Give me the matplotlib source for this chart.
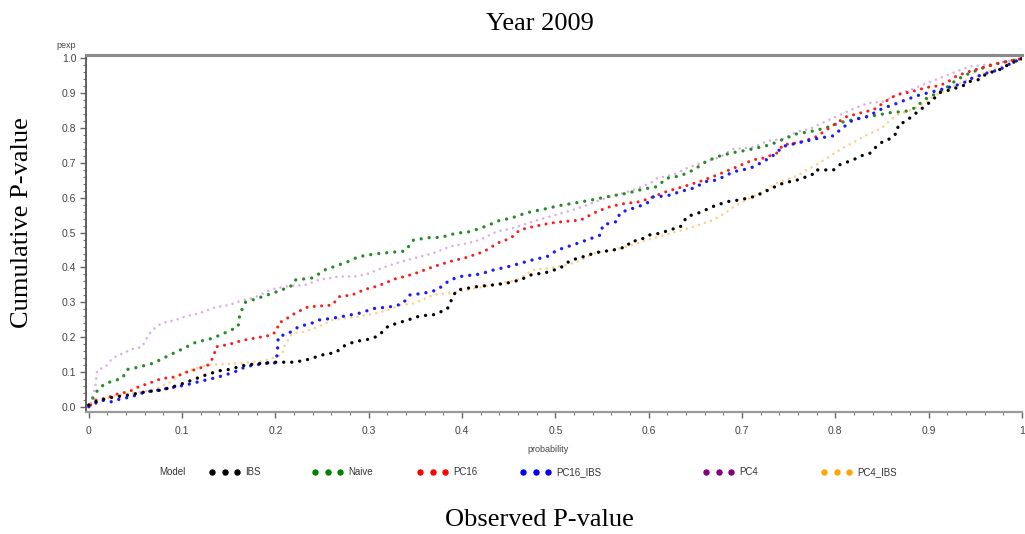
import matplotlib
matplotlib.use('Agg')
import matplotlib.pyplot as plt
from matplotlib.lines import Line2D
from matplotlib.ticker import MultipleLocator

# 各模型的累计 P 值曲线
ibs_x = [0, 0.011, 0.025, 0.043, 0.061, 0.078, 0.096, 0.111, 0.125, 0.139, 0.150, 0.168, 0.186, 0.200,
         0.221, 0.235, 0.253, 0.264, 0.275, 0.285, 0.300, 0.310, 0.321, 0.332, 0.344, 0.355, 0.369,
         0.384, 0.389, 0.394, 0.416, 0.434, 0.448, 0.462, 0.476, 0.487, 0.505, 0.516, 0.530, 0.544,
         0.562, 0.577, 0.580, 0.591, 0.600, 0.612, 0.623, 0.634, 0.641, 0.655, 0.669, 0.684, 0.698,
         0.712, 0.721, 0.737, 0.744, 0.759, 0.775, 0.778, 0.798, 0.805, 0.819, 0.830, 0.837, 0.844,
         0.851, 0.860, 0.867, 0.867, 0.875, 0.884, 0.891, 0.898, 0.905, 0.912, 0.923, 0.937, 0.944,
         0.953, 0.962, 0.970, 0.978, 0.985, 1.0]
ibs_y = [0.005, 0.019, 0.027, 0.034, 0.043, 0.048, 0.062, 0.077, 0.091, 0.103, 0.107, 0.120, 0.125, 0.128,
         0.128, 0.136, 0.151, 0.155, 0.177, 0.187, 0.194, 0.203, 0.232, 0.241, 0.251, 0.261, 0.264,
         0.280, 0.309, 0.335, 0.345, 0.350, 0.355, 0.364, 0.381, 0.383, 0.398, 0.420, 0.431, 0.443,
         0.450, 0.460, 0.474, 0.479, 0.493, 0.498, 0.508, 0.517, 0.546, 0.558, 0.575, 0.589, 0.594,
         0.603, 0.613, 0.634, 0.642, 0.651, 0.666, 0.680, 0.680, 0.695, 0.709, 0.723, 0.728, 0.747,
         0.762, 0.771, 0.790, 0.809, 0.819, 0.838, 0.853, 0.867, 0.883, 0.902, 0.910, 0.922, 0.934,
         0.939, 0.956, 0.963, 0.970, 0.982, 1.0]

naive_x = [0, 0.010, 0.0177, 0.036, 0.041, 0.052, 0.069, 0.087, 0.098, 0.116, 0.127, 0.141, 0.160,
           0.162, 0.168, 0.198, 0.216, 0.221, 0.240, 0.253, 0.278, 0.289, 0.307, 0.330, 0.339, 0.348,
           0.366, 0.377, 0.393, 0.409, 0.427, 0.441, 0.452, 0.469, 0.487, 0.505, 0.523, 0.539, 0.559,
           0.577, 0.594, 0.609, 0.619, 0.634, 0.648, 0.662, 0.676, 0.691, 0.698, 0.714, 0.730, 0.744,
           0.759, 0.773, 0.789, 0.805, 0.819, 0.834, 0.846, 0.860, 0.875, 0.884, 0.898, 0.916, 0.930,
           0.944, 0.962, 0.976, 1.0]
naive_y = [0.005, 0.050, 0.067, 0.082, 0.107, 0.113, 0.125, 0.149, 0.163, 0.187, 0.192, 0.206, 0.230,
           0.268, 0.300, 0.327, 0.345, 0.364, 0.370, 0.393, 0.417, 0.431, 0.439, 0.445, 0.447, 0.479,
           0.486, 0.486, 0.498, 0.503, 0.520, 0.536, 0.541, 0.557, 0.567, 0.578, 0.586, 0.594, 0.605,
           0.613, 0.625, 0.632, 0.656, 0.663, 0.680, 0.705, 0.720, 0.730, 0.733, 0.742, 0.752, 0.768,
           0.784, 0.790, 0.800, 0.816, 0.824, 0.833, 0.838, 0.845, 0.848, 0.857, 0.886, 0.910, 0.939,
           0.958, 0.977, 0.987, 1.0]

pc16_x = [0.002, 0.007, 0.018, 0.032, 0.043, 0.053, 0.064, 0.078, 0.093, 0.103, 0.118, 0.128, 0.134,
          0.136, 0.150, 0.160, 0.171, 0.186, 0.196, 0.202, 0.203, 0.210, 0.218, 0.228, 0.235, 0.246,
          0.261, 0.268, 0.282, 0.296, 0.310, 0.330, 0.339, 0.352, 0.369, 0.387, 0.405, 0.423, 0.439,
          0.452, 0.462, 0.476, 0.494, 0.509, 0.527, 0.544, 0.559, 0.573, 0.591, 0.605, 0.619, 0.637,
          0.655, 0.669, 0.691, 0.712, 0.723, 0.737, 0.744, 0.762, 0.780, 0.798, 0.812, 0.826, 0.841,
          0.859, 0.866, 0.882, 0.898, 0.912, 0.923, 0.930, 0.944, 0.962, 0.976, 1.0]
pc16_y = [0.005, 0.019, 0.024, 0.038, 0.043, 0.057, 0.067, 0.081, 0.086, 0.098, 0.110, 0.120, 0.144,
          0.172, 0.179, 0.187, 0.194, 0.201, 0.206, 0.220, 0.240, 0.249, 0.264, 0.278, 0.287, 0.289,
          0.292, 0.316, 0.321, 0.337, 0.347, 0.369, 0.374, 0.385, 0.402, 0.417, 0.429, 0.445, 0.471,
          0.484, 0.508, 0.517, 0.527, 0.532, 0.536, 0.560, 0.575, 0.583, 0.589, 0.603, 0.618, 0.632,
          0.647, 0.661, 0.685, 0.709, 0.714, 0.728, 0.752, 0.759, 0.776, 0.809, 0.833, 0.843, 0.853,
          0.886, 0.896, 0.905, 0.917, 0.922, 0.937, 0.950, 0.963, 0.977, 0.987, 1.0]

pc16_ibs_x = [0, 0.007, 0.014, 0.025, 0.032, 0.046, 0.061, 0.075, 0.085, 0.103, 0.118, 0.132, 0.146,
              0.157, 0.168, 0.178, 0.191, 0.200, 0.202, 0.203, 0.214, 0.225, 0.239, 0.246, 0.261, 0.275,
              0.289, 0.307, 0.321, 0.336, 0.344, 0.359, 0.373, 0.387, 0.398, 0.419, 0.434, 0.452, 0.469,
              0.476, 0.491, 0.502, 0.519, 0.534, 0.548, 0.551, 0.566, 0.569, 0.577, 0.587, 0.598, 0.605,
              0.619, 0.634, 0.648, 0.662, 0.673, 0.691, 0.709, 0.723, 0.737, 0.743, 0.762, 0.782, 0.798,
              0.805, 0.819, 0.834, 0.851, 0.867, 0.875, 0.891, 0.905, 0.919, 0.937, 0.944, 0.962, 0.976,
              0.985, 1.0]
pc16_ibs_y = [0, 0.010, 0.019, 0.014, 0.021, 0.029, 0.043, 0.048, 0.053, 0.062, 0.072, 0.081, 0.091,
              0.101, 0.115, 0.120, 0.125, 0.126, 0.153, 0.201, 0.211, 0.230, 0.240, 0.249, 0.254, 0.261,
              0.268, 0.283, 0.286, 0.295, 0.321, 0.326, 0.335, 0.364, 0.374, 0.381, 0.393, 0.404, 0.417,
              0.422, 0.431, 0.450, 0.465, 0.479, 0.493, 0.522, 0.532, 0.556, 0.565, 0.573, 0.584, 0.603,
              0.605, 0.618, 0.628, 0.647, 0.651, 0.675, 0.685, 0.704, 0.728, 0.747, 0.759, 0.771, 0.778,
              0.795, 0.824, 0.833, 0.857, 0.872, 0.881, 0.896, 0.905, 0.915, 0.929, 0.941, 0.958, 0.968,
              0.982, 1.0]

pc4_x = [0.002, 0.007, 0.009, 0.018, 0.025, 0.036, 0.046, 0.057, 0.064, 0.068, 0.078, 0.093, 0.103,
         0.118, 0.136, 0.150, 0.164, 0.178, 0.196, 0.210, 0.232, 0.246, 0.268, 0.285, 0.298, 0.318,
         0.335, 0.355, 0.369, 0.387, 0.405, 0.419, 0.437, 0.455, 0.476, 0.494, 0.512, 0.530, 0.548,
         0.566, 0.584, 0.602, 0.609, 0.626, 0.641, 0.655, 0.676, 0.690, 0.712, 0.728, 0.744, 0.759,
         0.773, 0.789, 0.805, 0.819, 0.835, 0.851, 0.866, 0.880, 0.898, 0.916, 0.930, 0.944, 0.962,
         0.976, 1.0]
pc4_y = [0.010, 0.057, 0.105, 0.115, 0.139, 0.153, 0.165, 0.172, 0.206, 0.220, 0.240, 0.249, 0.259,
         0.268, 0.286, 0.292, 0.305, 0.314, 0.337, 0.345, 0.350, 0.364, 0.374, 0.374, 0.381, 0.402,
         0.417, 0.431, 0.441, 0.460, 0.469, 0.479, 0.503, 0.513, 0.532, 0.546, 0.560, 0.575, 0.594,
         0.608, 0.623, 0.642, 0.656, 0.666, 0.685, 0.699, 0.716, 0.740, 0.745, 0.764, 0.769, 0.790,
         0.798, 0.819, 0.838, 0.855, 0.872, 0.876, 0.896, 0.910, 0.929, 0.948, 0.963, 0.977, 0.982,
         0.988, 1.0]

pc4_ibs_x = [0.002, 0.018, 0.032, 0.046, 0.068, 0.085, 0.100, 0.114, 0.128, 0.146, 0.164, 0.186, 0.196,
             0.207, 0.210, 0.218, 0.232, 0.246, 0.261, 0.275, 0.289, 0.307, 0.321, 0.334, 0.348, 0.362,
             0.369, 0.384, 0.405, 0.423, 0.441, 0.459, 0.476, 0.494, 0.512, 0.527, 0.541, 0.562, 0.584,
             0.598, 0.612, 0.630, 0.648, 0.669, 0.684, 0.691, 0.705, 0.719, 0.737, 0.759, 0.769, 0.780,
             0.791, 0.805, 0.819, 0.834, 0.850, 0.859, 0.867, 0.882, 0.898, 0.905, 0.919, 0.937, 0.951,
             0.970, 0.985, 1.0]
pc4_ibs_y = [0.006, 0.024, 0.034, 0.038, 0.048, 0.067, 0.096, 0.110, 0.120, 0.123, 0.125, 0.131, 0.139,
             0.149, 0.177, 0.211, 0.216, 0.230, 0.249, 0.254, 0.259, 0.268, 0.278, 0.292, 0.297, 0.312,
             0.321, 0.326, 0.335, 0.345, 0.355, 0.364, 0.393, 0.398, 0.407, 0.420, 0.441, 0.450, 0.465,
             0.479, 0.489, 0.503, 0.517, 0.536, 0.560, 0.575, 0.594, 0.613, 0.642, 0.663, 0.680, 0.695,
             0.714, 0.738, 0.759, 0.781, 0.800, 0.824, 0.838, 0.853, 0.876, 0.891, 0.910, 0.934, 0.948,
             0.970, 0.982, 1.0]

models = ['IBS', 'Naive', 'PC16', 'PC16_IBS', 'PC4', 'PC4_IBS']
series = [(ibs_x, ibs_y), (naive_x, naive_y), (pc16_x, pc16_y),
          (pc16_ibs_x, pc16_ibs_y), (pc4_x, pc4_y), (pc4_ibs_x, pc4_ibs_y)]

# 图中颜色（PC4、PC4_IBS 的点较淡）和图例颜色
plot_colors = ['#000000', '#2a8a2a', '#ff1a1a', '#1a1aff', '#dcb0e4', '#ffcf85']
key_colors = ['#000000', '#008000', '#ff0000', '#0000ff', '#800080', '#ffa500']
dot_widths = [2.4, 2.4, 2.2, 2.4, 1.9, 1.9]

fig = plt.figure(figsize=(10.25, 5.34), dpi=100)
ax = fig.add_axes([86 / 1025, 1 - 412 / 534, 936 / 1025, 357 / 534])

# 画顺序：淡色的在下面
order = [4, 5, 1, 2, 3, 0]
for i in order:
    xs, ys = series[i]
    ax.plot(xs, ys, linestyle=(0, (0.01, 2.4)), dash_capstyle='round',
            lw=dot_widths[i], color=plot_colors[i])

ax.set_xlim(-0.003, 1.0)
ax.set_ylim(-0.015, 1.01)
ax.xaxis.set_major_locator(MultipleLocator(0.1))
ax.xaxis.set_minor_locator(MultipleLocator(0.02))
ax.yaxis.set_major_locator(MultipleLocator(0.1))
ax.yaxis.set_minor_locator(MultipleLocator(0.02))
ax.set_xticks([0, 0.1, 0.2, 0.3, 0.4, 0.5, 0.6, 0.7, 0.8, 0.9, 1.0])
ax.set_xticklabels(['0', '0.1', '0.2', '0.3', '0.4', '0.5', '0.6', '0.7', '0.8', '0.9', '1'])
ax.set_yticks([0, 0.1, 0.2, 0.3, 0.4, 0.5, 0.6, 0.7, 0.8, 0.9, 1.0])
ax.set_yticklabels(['0.0', '0.1', '0.2', '0.3', '0.4', '0.5', '0.6', '0.7', '0.8', '0.9', '1.0'])

ax.spines['right'].set_visible(False)
ax.spines['top'].set_color('#8a8a8a')
ax.spines['top'].set_linewidth(2.2)
ax.spines['bottom'].set_color('#9a9a9a')
ax.spines['bottom'].set_linewidth(1.6)
ax.spines['left'].set_color('#555555')
ax.spines['left'].set_linewidth(1.3)
ax.tick_params(which='major', length=4, width=1, color='#666666', labelsize=7.5,
               labelcolor='#444444', pad=3)
ax.tick_params(which='minor', length=2.5, width=0.8, color='#777777')
ax.tick_params(axis='x', pad=6)
for lab in ax.get_xticklabels() + ax.get_yticklabels():
    lab.set_family('Liberation Sans')

sans = 'Liberation Sans'
fig.text(66 / 1025, 1 - 46 / 534, 'pexp', fontsize=6.5, color='#444444', family=sans,
         ha='center', va='center')
fig.text(548 / 1025, 1 - 450 / 534, 'probability', fontsize=6.5, color='#444444', family=sans,
         ha='center', va='center')

# 图例（手动排布）
ly = 1 - 472 / 534
fig.text(159 / 1025, ly, 'Model', fontsize=7, color='#333333', family=sans, ha='left', va='center')
key_x = [212, 315, 420, 523, 706, 824]
for k, name in enumerate(models):
    x0 = key_x[k]
    pts = [x0 / 1025, (x0 + 12.5) / 1025, (x0 + 25) / 1025]
    fig.add_artist(Line2D(pts, [ly] * 3, transform=fig.transFigure, linestyle='none',
                          marker='o', markersize=3.6, color=key_colors[k]))
    fig.text((x0 + 33) / 1025, ly, name, fontsize=7, color='#333333', family=sans,
             ha='left', va='center')

serif = 'Liberation Serif'
fig.text(540 / 1025, 1 - 24 / 534, 'Year 2009', fontsize=19, family=serif, ha='center', va='center')
fig.text(539 / 1025, 1 - 520 / 534, 'Observed P-value', fontsize=19, family=serif,
         ha='center', va='center')
fig.text(22 / 1025, 1 - 223 / 534, 'Cumulative P-value', fontsize=19, family=serif,
         rotation=90, ha='center', va='center')

fig.savefig('out.png', dpi=100)
